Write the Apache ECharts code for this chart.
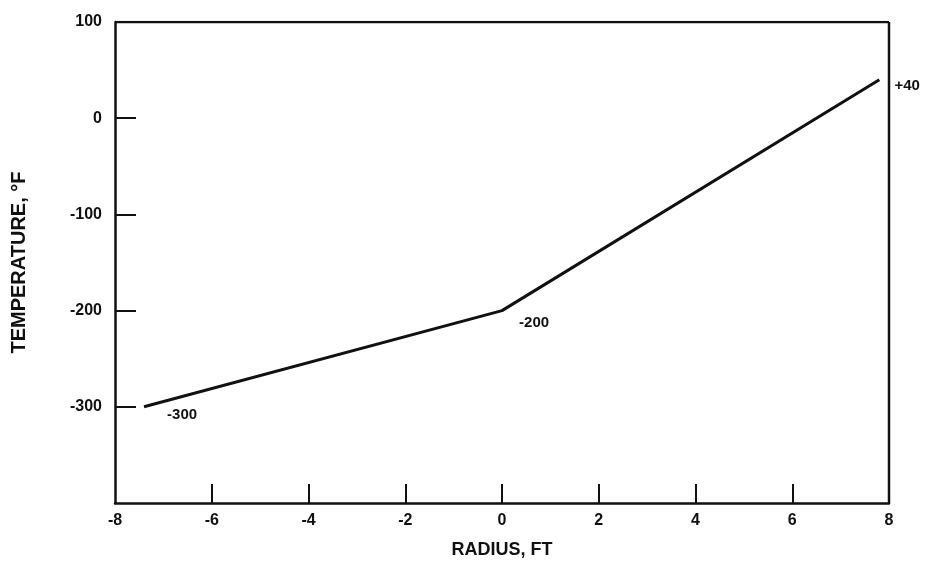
<!DOCTYPE html>
<html>
<head>
<meta charset="utf-8">
<script src="https://cdn.jsdelivr.net/npm/echarts@6/dist/echarts.min.js"></script>
<style>html,body{margin:0;padding:0;background:#fff;}#c{width:925px;height:575px;}</style>
</head>
<body>
<div id="c"></div>
<script>
const radius = [-7.4, 0, 7.8];
const temperature = [-300, -200, 40];
const pointLabels = ['-300', '-200', '+40'];
const xTicks = [-8, -6, -4, -2, 0, 2, 4, 6, 8];
const yTicks = [-400, -300, -200, -100, 0, 100];

const labelOffsets = [[18, 8], [12, 12], [10, 6]];
const font = '"Liberation Sans", Arial, sans-serif';

const chart = echarts.init(document.getElementById('c'), null, {renderer: 'canvas'});
chart.setOption({
  animation: false,
  backgroundColor: '#fff',
  grid: {left: 115, right: 36, top: 22, bottom: 72, show: false},
  xAxis: {
    type: 'value', min: -8, max: 8, interval: 2,
    name: 'RADIUS, FT', nameLocation: 'middle', nameGap: 38,
    nameTextStyle: {color: '#111', fontSize: 18, fontWeight: 'bold', fontFamily: font},
    axisLine: {show: true, onZero: false, lineStyle: {color: '#111', width: 2.5}},
    axisTick: {show: true, inside: true, length: 19, lineStyle: {color: '#111', width: 2},
      customValues: xTicks.slice(1, -1)},
    axisLabel: {color: '#111', fontSize: 16, fontWeight: 'bold', fontFamily: font, margin: 10,
      customValues: xTicks},
    splitLine: {show: false}
  },
  yAxis: {
    type: 'value', min: -400, max: 100, interval: 100,
    name: 'TEMPERATURE, °F', nameLocation: 'middle', nameGap: 86, nameRotate: 90,
    nameTextStyle: {color: '#111', fontSize: 20, fontWeight: 'bold', fontFamily: font},
    axisLine: {show: true, onZero: false, lineStyle: {color: '#111', width: 2.5}},
    axisTick: {show: true, inside: true, length: 21, lineStyle: {color: '#111', width: 2},
      customValues: yTicks.slice(1, -1)},
    axisLabel: {color: '#111', fontSize: 16, fontWeight: 'bold', fontFamily: font, margin: 13,
      customValues: yTicks.slice(1)},
    splitLine: {show: false}
  },
  series: [
    {
      type: 'line',
      data: radius.map((x, i) => ({
        value: [x, temperature[i]],
        label: {show: true, formatter: pointLabels[i], position: 'right', offset: labelOffsets[i]}
      })),
      symbol: 'circle', symbolSize: 0.1, showSymbol: true,
      itemStyle: {color: '#111'},
      lineStyle: {color: '#111', width: 3},
      label: {color: '#111', fontSize: 15, fontWeight: 'bold', fontFamily: font},
      z: 3
    },
    {
      type: 'line', data: [[-8, 100], [8, 100]], symbol: 'none',
      lineStyle: {color: '#111', width: 2.5}, silent: true
    },
    {
      type: 'line', data: [[8, -400], [8, 100]], symbol: 'none',
      lineStyle: {color: '#111', width: 2.5}, silent: true
    }
  ]
});
</script>
</body>
</html>
